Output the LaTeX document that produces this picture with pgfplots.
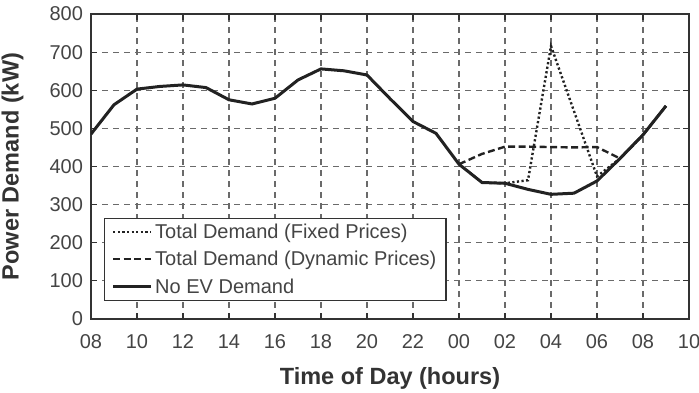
\documentclass[border=0pt]{standalone}
\usepackage{fontspec}
\setmainfont{Liberation Sans}
\usepackage{pgfplots}
\pgfplotsset{compat=1.18}

\definecolor{axgray}{HTML}{333333}
\definecolor{gridgray}{HTML}{6A6A6A}
\definecolor{linecol}{HTML}{222222}
\definecolor{txtgray}{HTML}{444444}

\begin{document}
\begin{tikzpicture}
\begin{axis}[
  at={(91pt,74pt)}, anchor=south west,
  width=598pt, height=305pt, scale only axis,
  xmin=8, xmax=34, ymin=0, ymax=800,
  xtick={8,10,...,34},
  xticklabels={08,10,12,14,16,18,20,22,00,02,04,06,08,10},
  ytick={0,100,...,800},
  grid=major,
  grid style={gridgray, line width=1.1pt, dash pattern=on 6pt off 5pt},
  axis line style={axgray, line width=1.8pt},
  tick align=inside,
  major tick length=6pt,
  tick style={axgray, line width=1.2pt},
  tick label style={font=\fontsize{20}{24}\selectfont, text=txtgray},
  /pgf/number format/assume math mode=true,
  xticklabel style={anchor=center, yshift=-23pt},
  yticklabel style={anchor=east, xshift=-4.5pt},
  xlabel={Time of Day (hours)},
  ylabel={Power Demand (kW)},
  label style={font=\fontsize{23.5}{28}\selectfont\bfseries, text=axgray},
  xlabel style={at={(rel axis cs:0.5,0)}, anchor=center, yshift=-59pt},
  ylabel style={at={(rel axis cs:0,0.5)}, anchor=center, yshift=78.5pt},
  legend cell align=left,
  legend style={
    at={(rel axis cs:0.0217,0.059)}, anchor=south west,
    draw=axgray, line width=1.5pt,
    font=\fontsize{20}{24}\selectfont, text=txtgray,
    inner xsep=7pt, inner ysep=3pt,
    nodes={inner sep=2.5pt},
    row sep=6.5pt,
  },
  legend image code/.code={
    \draw[#1] (0pt,0pt) -- (38pt,0pt);
  },
]

% Total demand with fixed charging prices
\addplot[linecol, line width=2.4pt, dash pattern=on 2.2pt off 2.4pt] coordinates {
  (24,406) (25,358) (26,356) (27,364) (28,716) (29,545) (30,374)
  (31,421) (32,483) (33,559)
};
\addlegendentry{Total Demand (Fixed Prices)}

% Total demand with dynamic charging prices
\addplot[linecol, line width=2.4pt, dash pattern=on 7pt off 3.5pt] coordinates {
  (24,406) (25,433) (26,452) (27,452) (28,451) (29,450) (30,451)
  (31,421) (32,483) (33,559)
};
\addlegendentry{Total Demand (Dynamic Prices)}

% Base load without electric vehicles
\addplot[linecol, line width=3pt] coordinates {
  (8,485) (9,562) (10,603) (11,610) (12,614) (13,607) (14,575)
  (15,564) (16,579) (17,627) (18,656) (19,651) (20,640) (21,578)
  (22,518) (23,487) (24,406) (25,358) (26,356) (27,340) (28,327)
  (29,330) (30,362) (31,421) (32,483) (33,559)
};
\addlegendentry{No EV Demand}

\end{axis}
\pgfresetboundingbox
\path (0pt,0pt) rectangle (699pt,393pt);
\end{tikzpicture}
\end{document}
